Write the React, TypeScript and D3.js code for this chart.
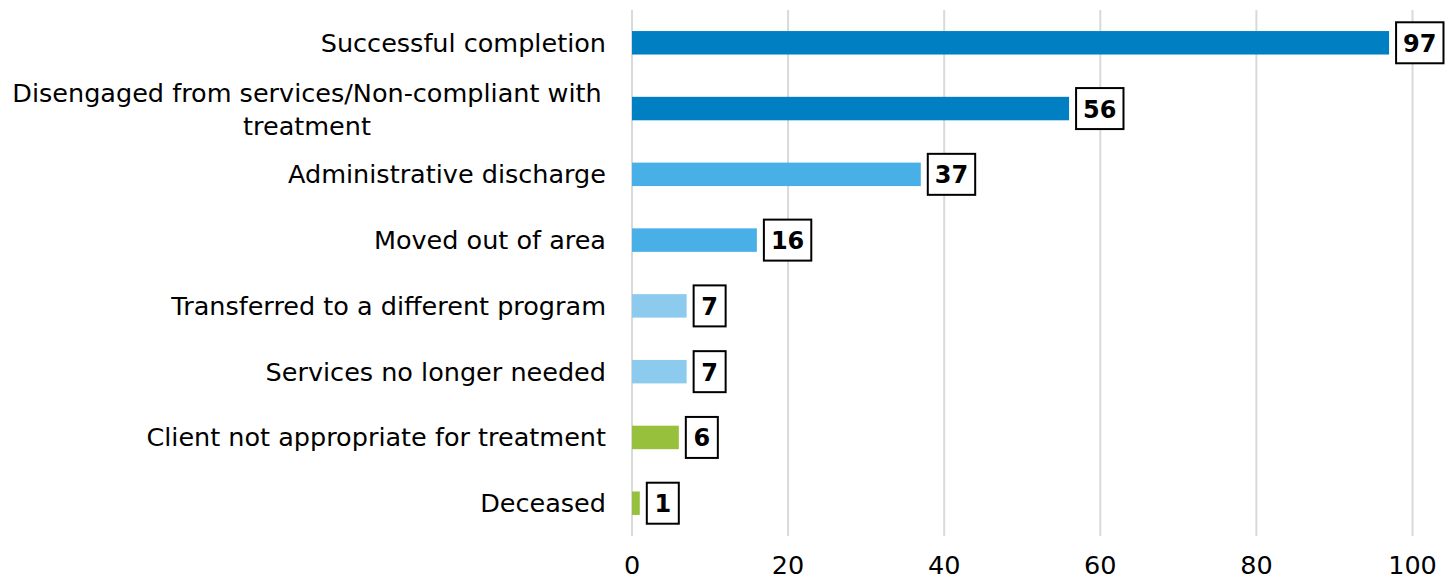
import React, { useRef, useEffect } from "react";
import * as d3 from "d3";

// Discharge reasons, top to bottom
const categories = [
  "Successful completion",
  "Disengaged from services/Non-compliant with treatment",
  "Administrative discharge",
  "Moved out of area",
  "Transferred to a different program",
  "Services no longer needed",
  "Client not appropriate for treatment",
  "Deceased",
];
const values = [97, 56, 37, 16, 7, 7, 6, 1];
const groups = ["a", "a", "b", "b", "c", "c", "d", "d"];
const xTicks = [0, 20, 40, 60, 80, 100];

const colorFor: Record<string, string> = {
  a: "#0080C3",
  b: "#48B0E6",
  c: "#8CCBEE",
  d: "#97C13C",
};

const W = 1454;
const H = 581;
const FONT = "'DejaVu Sans', sans-serif";

const App = () => {
  const ref = useRef<SVGSVGElement>(null);

  useEffect(() => {
    const svg = d3.select(ref.current);
    svg.selectAll("*").remove();

    const margin = { top: 10, right: 42, bottom: 45, left: 632 };
    const x = d3.scaleLinear().domain([0, 100]).range([margin.left, 1412.5]);
    const y = d3
      .scaleBand()
      .domain(categories)
      .range([margin.top, H - margin.bottom])
      .paddingInner(0.643)
      .paddingOuter(0.32);

    // gridlines
    svg
      .append("g")
      .selectAll("line")
      .data(xTicks)
      .enter()
      .append("line")
      .attr("x1", (d) => x(d))
      .attr("x2", (d) => x(d))
      .attr("y1", margin.top)
      .attr("y2", H - margin.bottom)
      .attr("stroke", "#D9D9D9")
      .attr("stroke-width", 2);

    // tick labels
    svg
      .append("g")
      .selectAll("text")
      .data(xTicks)
      .enter()
      .append("text")
      .attr("x", (d) => x(d))
      .attr("y", 574)
      .attr("text-anchor", "middle")
      .style("font-family", FONT)
      .style("font-size", "25.5px")
      .attr("fill", "#000")
      .text((d) => d);

    // bars
    svg
      .append("g")
      .selectAll("rect")
      .data(categories)
      .enter()
      .append("rect")
      .attr("x", x(0))
      .attr("y", (d) => y(d)!)
      .attr("width", (d, i) => x(values[i]) - x(0))
      .attr("height", y.bandwidth())
      .attr("fill", (d, i) => colorFor[groups[i]]);

    // category labels, wrapped when too long
    const labelG = svg.append("g");
    categories.forEach((c) => {
      const cy = y(c)! + y.bandwidth() / 2;
      const lines =
        c.length > 45
          ? ["Disengaged from services/Non-compliant with", "treatment"]
          : [c];
      const t = labelG
        .append("text")
        .style("font-family", FONT)
        .style("font-size", "25.5px")
        .attr("fill", "#000");
      if (lines.length === 1) {
        t.append("tspan")
          .attr("x", 606)
          .attr("y", cy + 9)
          .attr("text-anchor", "end")
          .text(lines[0]);
      } else {
        t.attr("text-anchor", "middle");
        lines.forEach((l, k) => {
          t.append("tspan")
            .attr("x", 307)
            .attr("y", cy - 16 + k * 33 + 9)
            .text(l);
        });
      }
    });

    // boxed value labels
    const valG = svg.append("g");
    categories.forEach((c, i) => {
      const cy = y(c)! + y.bandwidth() / 2;
      const x0 = x(values[i]) + 7;
      const g = valG.append("g");
      const rect = g.append("rect");
      const t = g
        .append("text")
        .attr("y", cy + 9)
        .style("font-family", FONT)
        .style("font-size", "24px")
        .style("font-weight", "bold")
        .attr("fill", "#000")
        .text(values[i]);
      const tw = (t.node() as SVGTextElement).getComputedTextLength();
      const bw = Math.max(32, tw + 14);
      t.attr("x", x0 + bw / 2).attr("text-anchor", "middle");
      rect
        .attr("x", x0)
        .attr("y", cy - 20.5)
        .attr("width", bw)
        .attr("height", 41)
        .attr("fill", "#fff")
        .attr("stroke", "#000")
        .attr("stroke-width", 2);
    });
  }, []);

  return (
    <svg
      ref={ref}
      width={W}
      height={H}
      style={{ position: "absolute", left: 0, top: 0, background: "#fff" }}
    />
  );
};

export default App;
